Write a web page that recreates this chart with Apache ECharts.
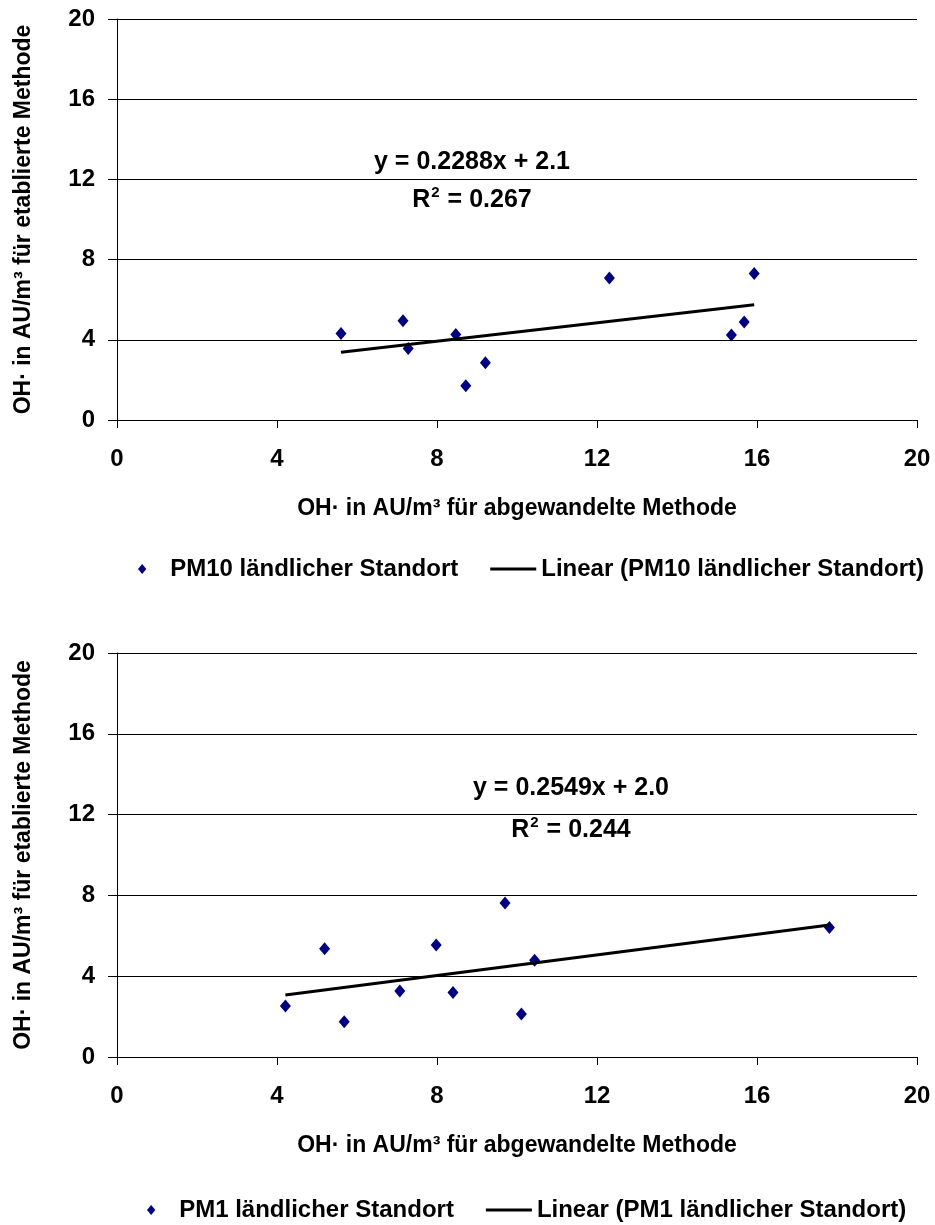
<!DOCTYPE html>
<html>
<head>
<meta charset="utf-8">
<script src="https://cdn.jsdelivr.net/npm/echarts@6/dist/echarts.min.js"></script>
<style>
html,body{margin:0;padding:0;background:#fff;}
#c{width:935px;height:1225px;}
</style>
</head>
<body>
<div id="c"></div>
<script>
// ---- data ----
const pm10Name = 'PM10 ländlicher Standort';
const pm10TrendName = 'Linear (PM10 ländlicher Standort)';
const pm10X = [5.60, 7.15, 7.28, 8.47, 8.72, 9.21, 12.31, 15.36, 15.68, 15.93];
const pm10Y = [4.32, 4.95, 3.57, 4.27, 1.71, 2.86, 7.08, 4.24, 4.89, 7.31];
const pm10Fit = [0.2288, 2.1];
const pm10Eq = ['y = 0.2288x + 2.1', '0.267'];

const pm1Name = 'PM1 ländlicher Standort';
const pm1TrendName = 'Linear (PM1 ländlicher Standort)';
const pm1X = [4.21, 5.19, 5.68, 7.07, 7.98, 8.40, 9.70, 10.11, 10.44, 17.81];
const pm1Y = [2.53, 5.36, 1.74, 3.27, 5.54, 3.19, 7.62, 2.13, 4.79, 6.41];
const pm1Fit = [0.2549, 2.0];
const pm1Eq = ['y = 0.2549x + 2.0', '0.244'];

const axisMin = 0, axisMax = 20, axisStep = 4;
const xTitle = 'OH· in AU/m³ für abgewandelte Methode';
const yTitle = 'OH· in AU/m³ für etablierte Methode';

// ---- helpers ----
function pts(xs, ys) { return xs.map((x, i) => [x, ys[i]]); }
function trend(xs, fit) {
  const lo = Math.min(...xs), hi = Math.max(...xs);
  return [[lo, fit[0] * lo + fit[1]], [hi, fit[0] * hi + fit[1]]];
}

const FONT = '"Liberation Sans", Arial, sans-serif';
const TXT = { color: '#000', fontFamily: FONT, fontWeight: 'bold' };
const DIAMOND = 'path://M5,0L10,6L5,12L0,6Z';
const BAR = 'path://M0,0H46V3H0Z';

function xAxis(gi) {
  return {
    gridIndex: gi, type: 'value', min: axisMin, max: axisMax, interval: axisStep,
    name: xTitle, nameLocation: 'middle', nameGap: 77,
    nameTextStyle: Object.assign({ fontSize: 23 }, TXT),
    axisLine: { show: true, lineStyle: { color: '#000', width: 1 } },
    axisTick: { show: true, length: 8, lineStyle: { color: '#000' } },
    axisLabel: Object.assign({ fontSize: 24, margin: 27 }, TXT),
    splitLine: { show: false }
  };
}
function yAxis(gi) {
  return {
    gridIndex: gi, type: 'value', min: axisMin, max: axisMax, interval: axisStep,
    name: yTitle, nameLocation: 'middle', nameGap: 82, nameRotate: 90,
    nameTextStyle: Object.assign({ fontSize: 23 }, TXT),
    axisLine: { show: true, onZero: false, lineStyle: { color: '#000', width: 1 } },
    axisTick: { show: true, length: 9, lineStyle: { color: '#000' } },
    axisLabel: Object.assign({ fontSize: 24, margin: 22 }, TXT),
    splitLine: { show: true, lineStyle: { color: '#000', width: 1 } }
  };
}
function scatter(name, gi, data) {
  return {
    name, type: 'scatter', xAxisIndex: gi, yAxisIndex: gi, data,
    symbol: 'diamond', symbolSize: [11, 13],
    itemStyle: { color: '#000080', opacity: 1 }, z: 3
  };
}
function line(name, gi, data) {
  return {
    name, type: 'line', xAxisIndex: gi, yAxisIndex: gi, data,
    symbol: 'none', showSymbol: false,
    lineStyle: { color: '#000', width: 3 }, itemStyle: { color: '#000' }, z: 4
  };
}
function legend(names, left, top) {
  return {
    data: [{ name: names[0], icon: DIAMOND }, { name: names[1], icon: BAR }],
    left, top, width: 900, orient: 'horizontal',
    itemWidth: 46, itemHeight: 10, itemGap: 32, symbolKeepAspect: true,
    textStyle: Object.assign({ fontSize: 24 }, TXT),
    selectedMode: false
  };
}
function eqBox(cx, cy1, cy2, x0, x1, lines) {
  const f = 'bold 25px ' + FONT;
  return {
    type: 'group', z: 10,
    children: [
      { type: 'rect', shape: { x: x0, y: cy1 - 16, width: x1 - x0, height: cy2 - cy1 + 34 }, style: { fill: '#fff' } },
      { type: 'text', x: cx, y: cy1, style: { text: lines[0], align: 'center', verticalAlign: 'middle', font: f, fill: '#000' } },
      { type: 'text', x: cx, y: cy2, style: {
          text: '{b|R}{s|2}{b| = ' + lines[1] + '}', align: 'center', verticalAlign: 'middle',
          rich: {
            b: { fontSize: 25, fontWeight: 'bold', fontFamily: FONT, fill: '#000', color: '#000', lineHeight: 28, verticalAlign: 'bottom' },
            s: { fontSize: 15, fontWeight: 'bold', fontFamily: FONT, fill: '#000', color: '#000', lineHeight: 28, verticalAlign: 'top', padding: [0, 1, 0, 1] }
          }
        } }
    ]
  };
}

const chart = echarts.init(document.getElementById('c'), null, { renderer: 'canvas' });
chart.setOption({
  backgroundColor: '#fff',
  animation: false,
  grid: [
    { left: 117, right: 18, top: 19, height: 401 },
    { left: 117, right: 18, top: 653, height: 404 }
  ],
  xAxis: [xAxis(0), xAxis(1)],
  yAxis: [yAxis(0), yAxis(1)],
  legend: [
    legend([pm10Name, pm10TrendName], 133, 552),
    legend([pm1Name, pm1TrendName], 142, 1193)
  ],
  series: [
    scatter(pm10Name, 0, pts(pm10X, pm10Y)),
    line(pm10TrendName, 0, trend(pm10X, pm10Fit)),
    scatter(pm1Name, 1, pts(pm1X, pm1Y)),
    line(pm1TrendName, 1, trend(pm1X, pm1Fit))
  ],
  graphic: [
    eqBox(472, 162, 199, 367, 578, pm10Eq),
    eqBox(571, 788, 829, 465, 678, pm1Eq)
  ]
});
</script>
</body>
</html>
